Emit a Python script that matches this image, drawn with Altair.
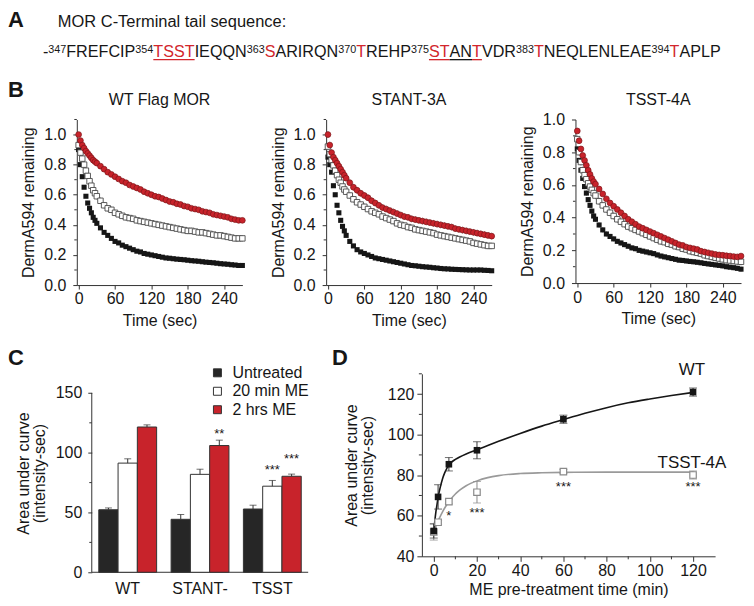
import altair as alt
import pandas as pd

FONT = "Liberation Sans"
INK = "#161616"
AXC = "#333333"
RED = "#c8232b"
RED_EDGE = "#7e1519"
RED_TXT = "#d2262c"

# ---------------- Panel A: sequence ----------------
header_text = ["MOR C-Terminal tail sequence:"]
seq_text = ["-", "347", "FREFCIP", "354", "TSST", "IEQQN", "363", "S", "ARIRQN", "370", "T",
            "REHP", "375", "ST", "AN", "T", "VDR", "383", "T", "NEQLENLEAE", "394", "T", "APLP"]
seq_kind = ["n", "s", "n", "s", "r", "n", "s", "r", "n", "s", "r",
            "n", "s", "r", "n", "r", "n", "s", "r", "n", "s", "r", "n"]
seq_underline = ["", "", "", "", "r", "", "", "", "", "", "",
                 "", "", "r", "k", "r", "", "", "", "", "", "", ""]

# ---------------- Panel B: DermA594 remaining ----------------
t_sec = [0, 3, 6, 9, 12, 15, 18, 21, 24, 27, 30, 36, 42, 48, 54, 60, 66, 72, 78, 84, 90, 96,
         102, 108, 114, 120, 126, 132, 138, 144, 150, 156, 162, 168, 174, 180, 186, 192, 198,
         204, 210, 216, 222, 228, 234, 240, 246, 252, 258, 264, 270]

wt_black = [0.90, 0.80, 0.72, 0.65, 0.59, 0.545, 0.51, 0.48, 0.45, 0.43, 0.41,
            0.38, 0.35, 0.33, 0.31, 0.29, 0.28, 0.265, 0.255, 0.245, 0.235, 0.225, 0.22, 0.21, 0.205,
            0.20, 0.195, 0.19, 0.185, 0.18, 0.178, 0.175, 0.172, 0.17, 0.168, 0.165, 0.162, 0.16, 0.158,
            0.155, 0.152, 0.15, 0.148, 0.145, 0.142, 0.14, 0.138, 0.135, 0.133, 0.13, 0.13]
wt_white = [0.93, 0.88, 0.84, 0.80, 0.76, 0.725, 0.69, 0.66, 0.63, 0.61, 0.59,
            0.56, 0.53, 0.51, 0.50, 0.48, 0.47, 0.46, 0.45, 0.445, 0.44, 0.43, 0.425, 0.42, 0.415,
            0.41, 0.405, 0.40, 0.395, 0.39, 0.385, 0.38, 0.375, 0.37, 0.365, 0.36, 0.36, 0.355, 0.35,
            0.35, 0.345, 0.34, 0.335, 0.33, 0.33, 0.325, 0.32, 0.315, 0.31, 0.31, 0.31]
wt_red = [1.00, 0.96, 0.93, 0.91, 0.89, 0.875, 0.86, 0.845, 0.83, 0.82, 0.81,
          0.79, 0.77, 0.75, 0.735, 0.72, 0.705, 0.69, 0.68, 0.665, 0.655, 0.645, 0.635, 0.62, 0.61,
          0.60, 0.59, 0.585, 0.575, 0.565, 0.555, 0.55, 0.54, 0.535, 0.525, 0.52, 0.51, 0.505, 0.50,
          0.49, 0.485, 0.48, 0.47, 0.465, 0.46, 0.455, 0.45, 0.44, 0.435, 0.43, 0.43]

stant_black = [0.85, 0.80, 0.75, 0.66, 0.60, 0.53, 0.48, 0.43, 0.39, 0.36, 0.33,
               0.29, 0.26, 0.235, 0.22, 0.21, 0.20, 0.19, 0.18, 0.175, 0.17, 0.165, 0.16, 0.155, 0.15,
               0.145, 0.14, 0.135, 0.13, 0.128, 0.125, 0.122, 0.12, 0.118, 0.115, 0.113, 0.11, 0.108,
               0.107, 0.105, 0.104, 0.103, 0.102, 0.101, 0.10, 0.10, 0.10, 0.10, 0.098, 0.097, 0.095]
stant_white = [0.92, 0.87, 0.83, 0.795, 0.76, 0.73, 0.70, 0.68, 0.655, 0.635, 0.62,
               0.595, 0.57, 0.55, 0.535, 0.52, 0.505, 0.49, 0.48, 0.47, 0.455, 0.445, 0.435, 0.425,
               0.41, 0.40, 0.395, 0.385, 0.38, 0.37, 0.365, 0.36, 0.355, 0.35, 0.345, 0.335, 0.33,
               0.325, 0.32, 0.315, 0.31, 0.305, 0.30, 0.295, 0.29, 0.28, 0.275, 0.27, 0.265, 0.26, 0.26]
stant_red = [1.00, 0.93, 0.88, 0.85, 0.83, 0.81, 0.79, 0.77, 0.75, 0.73, 0.71,
             0.68, 0.65, 0.63, 0.61, 0.595, 0.58, 0.56, 0.545, 0.53, 0.515, 0.505, 0.495, 0.485,
             0.475, 0.465, 0.455, 0.45, 0.44, 0.435, 0.43, 0.425, 0.42, 0.415, 0.41, 0.405, 0.40,
             0.395, 0.39, 0.385, 0.375, 0.37, 0.365, 0.36, 0.355, 0.35, 0.345, 0.34, 0.335, 0.33, 0.325]

tsst_black = [0.82, 0.75, 0.69, 0.64, 0.59, 0.55, 0.51, 0.475, 0.44, 0.41, 0.39,
              0.355, 0.325, 0.30, 0.285, 0.27, 0.255, 0.245, 0.235, 0.225, 0.215, 0.21, 0.20, 0.195,
              0.19, 0.185, 0.18, 0.172, 0.165, 0.16, 0.155, 0.15, 0.145, 0.14, 0.138, 0.135, 0.132,
              0.13, 0.127, 0.124, 0.12, 0.117, 0.114, 0.111, 0.108, 0.105, 0.10, 0.097, 0.094, 0.09, 0.085]
tsst_white = [0.88, 0.80, 0.74, 0.69, 0.66, 0.635, 0.61, 0.59, 0.57, 0.55, 0.535,
              0.50, 0.475, 0.45, 0.43, 0.41, 0.39, 0.375, 0.36, 0.345, 0.335, 0.325, 0.315, 0.305,
              0.295, 0.285, 0.275, 0.265, 0.255, 0.25, 0.24, 0.235, 0.225, 0.22, 0.21, 0.205, 0.195,
              0.19, 0.185, 0.18, 0.17, 0.165, 0.16, 0.155, 0.15, 0.145, 0.14, 0.138, 0.135, 0.132, 0.13]
tsst_red = [0.93, 0.87, 0.82, 0.78, 0.75, 0.72, 0.69, 0.665, 0.64, 0.62, 0.605,
            0.575, 0.545, 0.515, 0.49, 0.47, 0.45, 0.43, 0.41, 0.39, 0.375, 0.36, 0.345, 0.335,
            0.325, 0.315, 0.305, 0.295, 0.285, 0.275, 0.265, 0.255, 0.245, 0.235, 0.23, 0.22, 0.215,
            0.21, 0.205, 0.195, 0.19, 0.185, 0.18, 0.175, 0.172, 0.17, 0.167, 0.165, 0.162, 0.16, 0.165]

# error (SEM) per series: black, white, red
wt_err = [0.006, 0.022, 0.008]
stant_err = [0.012, 0.022, 0.022]
tsst_err = [0.016, 0.022, 0.016]

# ---------------- Panel C: AUC bars ----------------
c_groups = ["WT", "STANT-", "TSST"]
c_treat = ["Untreated", "20 min ME", "2 hrs ME"]
c_colors = ["#262626", "#ffffff", RED]
auc_untreated = [52.3, 44.3, 52.9]
auc_20min = [91.3, 81.9, 72.0]
auc_2hrs = [121.5, 106.0, 80.3]
sem_untreated = [1.5, 4.0, 3.2]
sem_20min = [3.6, 4.3, 4.8]
sem_2hrs = [1.8, 4.5, 1.8]
c_star_text = ["**", "***", "***"]
c_star_group = ["STANT-", "TSST", "TSST"]
c_star_treat = ["2 hrs ME", "20 min ME", "2 hrs ME"]
c_star_y = [118.0, 88.0, 97.0]

# ---------------- Panel D: AUC vs pretreatment ----------------
me_time = [0, 2, 7, 20, 60, 120]
wt_auc = [52.5, 69.3, 85.4, 92.3, 107.6, 121.0]
wt_sem = [3.5, 6.0, 3.3, 4.2, 2.0, 2.0]
tsst_auc = [52.0, 56.8, 67.0, 71.6, 81.8, 80.1]
tsst_sem = [4.0, 1.0, 1.2, 5.3, 1.0, 2.0]
fit_wt_t = [0, 0.5, 1, 1.5, 2, 3, 4, 5, 6, 7, 8, 10, 12, 15, 20, 25, 30, 40, 50, 60, 70, 80, 90, 100, 110, 120]
fit_wt_v = [52.0, 57.5, 62.0, 65.5, 69.0, 74.0, 78.0, 81.0, 83.3, 85.0, 86.2, 87.8, 89.0, 90.5, 92.5,
            94.6, 96.7, 100.6, 104.2, 107.4, 110.5, 113.3, 115.7, 117.6, 119.3, 120.8]
fit_tsst_t = [0, 1, 2, 3, 4, 5, 6, 7, 8, 10, 12, 15, 20, 25, 30, 40, 50, 60, 80, 100, 120]
fit_tsst_v = [52.0, 54.8, 57.4, 59.7, 61.8, 63.7, 65.4, 66.9, 68.3, 70.7, 72.6, 74.8, 77.2, 78.8,
              79.8, 80.8, 81.2, 81.4, 81.5, 81.5, 81.5]
d_star_t = [7, 20, 60, 120]
d_star_y = [61.5, 63.0, 75.5, 75.5]
d_star_text = ["*", "***", "***", "***"]
d_label_text = ["WT", "TSST-4A"]
d_label_t = [119.5, 119.5]
d_label_y = [132.0, 86.0]

# ================= layout helpers =================
ADV = {'A': 667, 'B': 667, 'C': 722, 'D': 722, 'E': 667, 'F': 611, 'G': 778, 'H': 722, 'I': 278,
       'J': 500, 'K': 667, 'L': 556, 'M': 833, 'N': 722, 'O': 778, 'P': 667, 'Q': 778, 'R': 722,
       'S': 667, 'T': 611, 'U': 722, 'V': 667, 'W': 944, 'X': 667, 'Y': 667, 'Z': 611, '-': 333}


def text_width(s, size):
    return sum(ADV.get(c, 556) for c in s) * size / 1000.0


# All rows share one origin: the left edge of the first B plot (page x = 77).
LEFT = -69        # panel letters sit at page x = 8
SEQ_SIZE, SUP_SIZE = 16.2, 10.8
HA = 48
VSP = 18


def label_text(txt, x, y, size=22, weight="bold", align="left", baseline="middle"):
    return alt.Chart(pd.DataFrame({"t": [txt]})).mark_text(
        font=FONT, fontSize=size, fontWeight=weight, align=align, baseline=baseline, color=INK
    ).encode(x=alt.value(x), y=alt.value(y), text="t:N")


rows = []
cur = -34.0
for txt, kind, ul in zip(seq_text, seq_kind, seq_underline):
    size = SUP_SIZE if kind == "s" else SEQ_SIZE
    w = text_width(txt, size)
    rows.append({"txt": txt, "kind": kind, "x": cur, "x2": cur + w,
                 "col": RED_TXT if kind == "r" else INK,
                 "ul": ul, "ulcol": RED_TXT if ul == "r" else INK})
    cur += w
seq_df = pd.DataFrame(rows)

letterA = label_text("A", LEFT, 14, baseline="alphabetic")
header = label_text(header_text[0], -19, 14, size=16.5, weight="normal", baseline="alphabetic")
seq_main = alt.Chart(seq_df).transform_filter("datum.kind != 's'").mark_text(
    font=FONT, fontSize=SEQ_SIZE, align="left", baseline="alphabetic"
).encode(x=alt.X("x:Q", scale=None, axis=None), y=alt.value(44), text="txt:N",
         color=alt.Color("col:N", scale=None))
seq_sup = alt.Chart(seq_df).transform_filter("datum.kind == 's'").mark_text(
    font=FONT, fontSize=SUP_SIZE, align="left", baseline="alphabetic"
).encode(x=alt.X("x:Q", scale=None, axis=None), y=alt.value(40), text="txt:N",
         color=alt.Color("col:N", scale=None))
underline = alt.Chart(seq_df).transform_filter("datum.ul != ''").mark_rule(strokeWidth=1.3).encode(
    x=alt.X("x:Q", scale=None, axis=None), x2="x2:Q", y=alt.value(47),
    color=alt.Color("ulcol:N", scale=None))

rowA = alt.layer(letterA, header, seq_main, seq_sup, underline).properties(width=600, height=HA)

# ================= Panel B =================
WB = 166


def b_panel(name, blk, wht, red, errs, ymax, height, letter=None):
    n = len(t_sec)
    df = pd.DataFrame({
        "t": t_sec * 3,
        "v": blk + wht + red,
        "s": ["blk"] * n + ["wht"] * n + ["red"] * n,
        "e": [errs[0]] * n + [errs[1]] * n + [errs[2]] * n,
    })
    df["lo"] = df["v"] - df["e"]
    df["hi"] = df["v"] + df["e"]
    xs = alt.Scale(domain=[-3, 270], nice=False, zero=False)
    ys = alt.Scale(domain=[0, ymax], nice=False, zero=True)
    xax = alt.Axis(values=[0, 60, 120, 180, 240], title="Time (sec)", tickSize=4,
                   labelPadding=2, titlePadding=6, labelFlush=False)
    majors = [0, 0.2, 0.4, 0.6, 0.8, 1.0]
    yax = alt.Axis(values=majors, format=".1f", title="DermA594 remaining", tickSize=4,
                   labelPadding=7, titlePadding=7, labelFlush=False)
    X = alt.X("t:Q", scale=xs, axis=xax)

    def Y(f):
        return alt.Y(f + ":Q", scale=ys, axis=yax)

    minor_vals = [0.1, 0.3, 0.5, 0.7, 0.9] + ([1.1] if ymax > 1.05 else [])
    minor = alt.Chart(pd.DataFrame({"v": minor_vals})).mark_rule(color=AXC, strokeWidth=1).encode(
        y=Y("v"), x=alt.value(-2.5), x2=alt.value(0))
    base = alt.Chart(df)
    err = base.mark_rule(color="#777777", strokeWidth=0.8).encode(x=X, y=Y("lo"), y2="hi:Q")
    pb = base.transform_filter("datum.s == 'blk'").mark_point(
        shape="square", filled=True, size=26, color=INK, opacity=1).encode(x=X, y=Y("v"))
    pw = base.transform_filter("datum.s == 'wht'").mark_point(
        shape="square", filled=True, fill="white", stroke="#4a4a4a", strokeWidth=0.9, size=30,
        opacity=1).encode(x=X, y=Y("v"))
    pr = base.transform_filter("datum.s == 'red'").mark_point(
        shape="circle", filled=True, fill=RED, stroke=RED_EDGE, strokeWidth=0.7, size=34,
        opacity=1).encode(x=X, y=Y("v"))
    title = label_text(name, WB / 2, -20, size=16, weight="normal", align="center")
    layers = [minor, err, pb, pw, pr, title]
    if letter:
        layers.append(label_text(letter, LEFT, -30))
    return alt.layer(*layers).properties(width=WB, height=height)


b1 = b_panel("WT Flag MOR", wt_black, wt_white, wt_red, wt_err, 1.1, 166, "B")
b2 = b_panel("STANT-3A", stant_black, stant_white, stant_red, stant_err, 1.1, 166)
b3 = b_panel("TSST-4A", tsst_black, tsst_white, tsst_red, tsst_err, 1.0, 164)
rowB = alt.hconcat(b1, b2, b3, spacing=84, bounds="flush")

# ================= Panel C =================
crow = []
for i, g in enumerate(c_groups):
    for k, vals, sems in zip(c_treat, [auc_untreated, auc_20min, auc_2hrs],
                             [sem_untreated, sem_20min, sem_2hrs]):
        crow.append({"g": g, "k": k, "v": vals[i], "hi": vals[i] + sems[i]})
cdf = pd.DataFrame(crow)
HC = 199
WC = 232
AX0 = 15          # the y axis of C sits 15 px right of the shared origin
cx = alt.X("g:N", scale=alt.Scale(domain=c_groups, paddingInner=0.2, paddingOuter=0.2, align=0.76),
           axis=alt.Axis(title=None, labelAngle=0, ticks=False, domain=False, labelPadding=8))
cxo = alt.XOffset("k:N", scale=alt.Scale(domain=c_treat, paddingInner=0, paddingOuter=0))
cys = alt.Scale(domain=[0, 166], nice=False)
cyax = alt.Axis(values=[0, 50, 100, 150], domain=False, title=["Area under curve", "(intensity-sec)"],
                tickSize=4, labelPadding=6, titlePadding=8, titleLineHeight=16, offset=-AX0)


def CY(f):
    return alt.Y(f + ":Q", scale=cys, axis=cyax)


c_axis_line = alt.Chart(pd.DataFrame({"v": [0], "v2": [150]})).mark_rule(color=AXC).encode(
    x=alt.value(AX0), y=CY("v"), y2="v2:Q")
c_base_line = alt.Chart(pd.DataFrame({"v": [0]})).mark_rule(color=AXC).encode(
    x=alt.value(AX0), x2=alt.value(WC), y=CY("v"))
c_minor = alt.Chart(pd.DataFrame({"v": [25, 75, 125]})).mark_rule(color=AXC).encode(
    y=CY("v"), x=alt.value(AX0 - 2.5), x2=alt.value(AX0))
bars = alt.Chart(cdf).mark_bar(stroke=AXC, strokeWidth=1).encode(
    x=cx, xOffset=cxo, y=CY("v"),
    color=alt.Color("k:N", scale=alt.Scale(domain=c_treat, range=c_colors), legend=None))
c_err = alt.Chart(cdf).mark_rule(color=AXC, strokeWidth=1).encode(x=cx, xOffset=cxo, y=CY("v"), y2="hi:Q")
c_cap = alt.Chart(cdf).mark_tick(orient="horizontal", size=7, thickness=1, color=AXC).encode(
    x=cx, xOffset=cxo, y=CY("hi"))
c_stars = alt.Chart(pd.DataFrame({"g": c_star_group, "k": c_star_treat, "y": c_star_y, "t": c_star_text})
                    ).mark_text(font=FONT, fontSize=13, color=INK, baseline="middle", dy=3).encode(
    x=cx, xOffset=cxo, y=CY("y"), text="t:N")
c_letter = label_text("C", LEFT, -16)

legend_layers = []
for i, (lab, colr) in enumerate(zip(c_treat, c_colors)):
    ly = -1 + 18.5 * i
    legend_layers.append(alt.Chart(pd.DataFrame({"t": [lab]})).mark_square(
        size=64, fill=colr, stroke=AXC, strokeWidth=1, opacity=1).encode(
        x=alt.value(141), y=alt.value(ly)))
    legend_layers.append(label_text(lab, 156, ly, size=16, weight="normal"))

c_chart = alt.layer(c_axis_line, c_base_line, c_minor, bars, c_err, c_cap, c_stars, c_letter,
                    *legend_layers).properties(width=WC, height=HC)

# ================= Panel D =================
HD = 183
dxs = alt.Scale(domain=[-5.5, 130.2], nice=False, zero=False)
dys = alt.Scale(domain=[40, 130], nice=False, zero=False)
dxax = alt.Axis(values=[0, 20, 40, 60, 80, 100, 120], title="ME pre-treatment time (min)", tickSize=5,
                labelPadding=1, titlePadding=3, labelFlush=False)
dyax = alt.Axis(values=[40, 60, 80, 100, 120], title=["Area under curve", "(intensity-sec)"], tickSize=5,
                labelPadding=3, titlePadding=12, titleLineHeight=16, labelFlush=False)


def DX(f):
    return alt.X(f + ":Q", scale=dxs, axis=dxax)


def DY(f):
    return alt.Y(f + ":Q", scale=dys, axis=dyax)


ddf = pd.DataFrame({
    "t": me_time * 2,
    "v": wt_auc + tsst_auc,
    "lo": [a - b for a, b in zip(wt_auc, wt_sem)] + [a - b for a, b in zip(tsst_auc, tsst_sem)],
    "hi": [a + b for a, b in zip(wt_auc, wt_sem)] + [a + b for a, b in zip(tsst_auc, tsst_sem)],
    "s": ["wt"] * len(me_time) + ["tsst"] * len(me_time),
})
d_minor_y = alt.Chart(pd.DataFrame({"v": [50, 70, 90, 110, 130]})).mark_rule(color=AXC).encode(
    y=DY("v"), x=alt.value(-3), x2=alt.value(0))
d_minor_x = alt.Chart(pd.DataFrame({"t": [10, 30, 50, 70, 90, 110]})).mark_rule(color=AXC).encode(
    x=DX("t"), y=alt.value(HD), y2=alt.value(HD + 3))
fit_wt = alt.Chart(pd.DataFrame({"t": fit_wt_t, "v": fit_wt_v})).mark_line(
    color=INK, strokeWidth=1.6, interpolate="monotone").encode(x=DX("t"), y=DY("v"))
fit_ts = alt.Chart(pd.DataFrame({"t": fit_tsst_t, "v": fit_tsst_v})).mark_line(
    color="#9a9a9a", strokeWidth=1.6, interpolate="monotone").encode(x=DX("t"), y=DY("v"))
dbase = alt.Chart(ddf)


def d_err_layers(series, colr):
    sub = dbase.transform_filter(f"datum.s == '{series}'")
    return [
        sub.mark_rule(color=colr).encode(x=DX("t"), y=DY("lo"), y2="hi:Q"),
        sub.mark_tick(orient="horizontal", size=8, thickness=1, color=colr).encode(x=DX("t"), y=DY("hi")),
        sub.mark_tick(orient="horizontal", size=8, thickness=1, color=colr).encode(x=DX("t"), y=DY("lo")),
    ]


d_pts_ts = dbase.transform_filter("datum.s == 'tsst'").mark_point(
    shape="square", filled=True, fill="white", stroke="#8a8a8a", strokeWidth=1.2, size=42,
    opacity=1).encode(x=DX("t"), y=DY("v"))
d_pts_wt = dbase.transform_filter("datum.s == 'wt'").mark_point(
    shape="square", filled=True, color=INK, size=44, opacity=1).encode(x=DX("t"), y=DY("v"))
d_stars = alt.Chart(pd.DataFrame({"t": d_star_t, "v": d_star_y, "s": d_star_text})).mark_text(
    font=FONT, fontSize=13, color=INK, baseline="middle", dy=3).encode(x=DX("t"), y=DY("v"), text="s:N")
d_labels = alt.Chart(pd.DataFrame({"t": d_label_t, "v": d_label_y, "s": d_label_text})).mark_text(
    font=FONT, fontSize=17, color=INK, baseline="middle", align="center").encode(
    x=DX("t"), y=DY("v"), text="s:N")
d_letter = label_text("D", -90, -16)
d_chart = alt.layer(d_minor_y, d_minor_x, fit_ts, fit_wt, *d_err_layers("tsst", "#8a8a8a"),
                    *d_err_layers("wt", AXC), d_pts_ts, d_pts_wt, d_stars, d_labels,
                    d_letter).properties(width=294, height=HD)

rowC = alt.hconcat(c_chart, d_chart, spacing=114, bounds="flush")

chart = alt.vconcat(rowA, rowB, rowC, spacing=VSP).properties(
    padding={"left": 0, "top": 0, "right": 0, "bottom": 0}, background="white"
).configure_view(stroke=None).configure_axis(
    labelFont=FONT, titleFont=FONT, labelFontSize=16, titleFontSize=16, titleFontWeight="normal",
    labelColor=INK, titleColor=INK, domainColor=AXC, tickColor=AXC, grid=False,
    domainWidth=1, tickWidth=1
)

chart.save("out.html", embed_options={"renderer": "svg", "actions": False})
